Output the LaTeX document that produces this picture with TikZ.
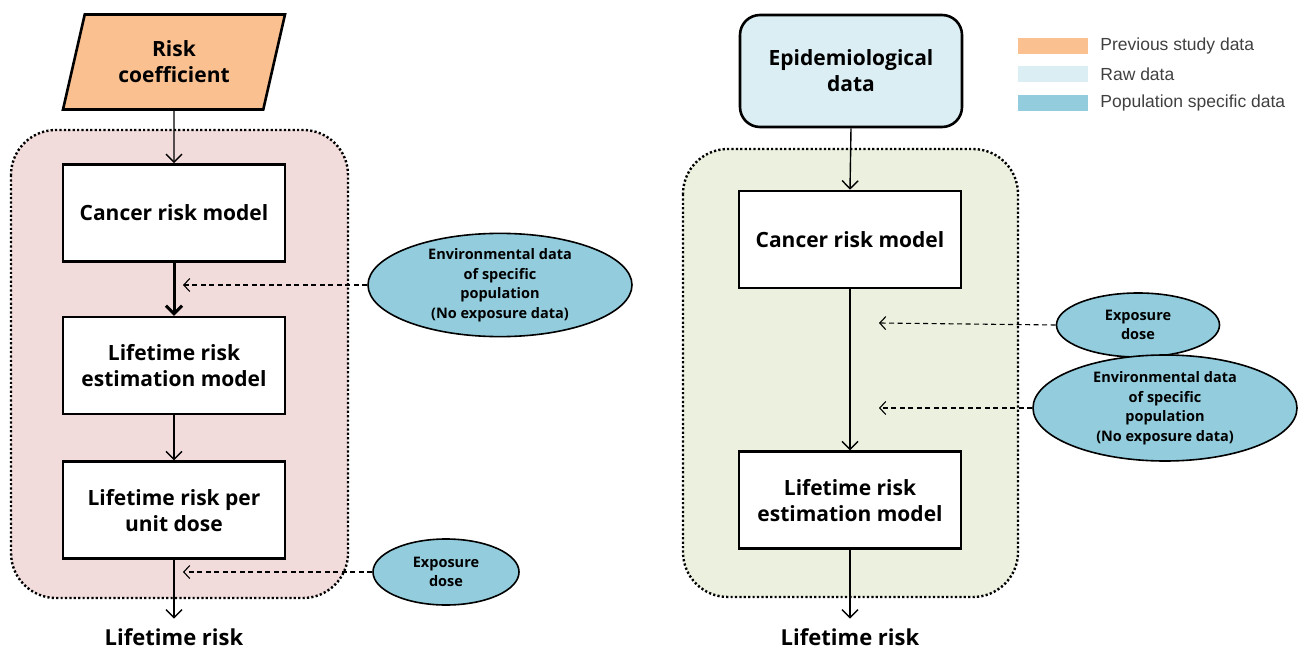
\documentclass[tikz,border=0pt]{standalone}
\usepackage{fontspec}
\setmainfont{Open Sans}
\newfontfamily\legfont{Liberation Sans}
\usetikzlibrary{positioning, shapes.geometric, arrows.meta}
\definecolor{prevorange}{HTML}{FAC090}
\definecolor{rawblue}{HTML}{DBEEF4}
\definecolor{popblue}{HTML}{93CDDD}
\definecolor{pinkbg}{HTML}{F2DCDB}
\definecolor{greenbg}{HTML}{EBF1DE}
\definecolor{legtext}{HTML}{404040}
\tikzset{mbox/.style={draw, line width=2.6pt, fill=white, minimum width=222pt, minimum height=97pt, align=center, font=\fontsize{21}{26}\selectfont\bfseries}}
\tikzset{popell/.style={ellipse, draw, line width=1.6pt, fill=popblue, inner sep=0pt, align=center, font=\fontsize{14.5}{19.5}\selectfont\bfseries}}
\tikzset{region/.style={line width=2.4pt, dash pattern=on 2.2pt off 2.2pt, rounded corners=45pt}}
\tikzset{arr/.style={draw, line width=1.4pt, -{Straight Barb[length=8pt, width=16pt]}}}
\tikzset{arrthick/.style={arr, line width=3pt}}
\tikzset{darr/.style={draw, line width=1.1pt, dash pattern=on 5pt off 3.5pt, -{Straight Barb[length=6pt, width=13pt]}}}
\tikzset{outtext/.style={font=\fontsize{22}{26}\selectfont\bfseries, anchor=base}}
\tikzset{swatch/.style={minimum width=70pt, minimum height=16pt, inner sep=0pt}}
\tikzset{legtxt/.style={anchor=west, inner sep=0pt, text=legtext, font=\legfont\fontsize{17.5}{20}\selectfont}}

\begin{document}
\begin{tikzpicture}[x=1pt, y=-1pt]
  \useasboundingbox (0,0) rectangle (1309,652);
  % dotted regions
  \draw[region, fill=pinkbg] (11,130) rectangle (348,598);
  \draw[region, fill=greenbg] (683,149) rectangle (1018,597);

  % left flow
  \node[trapezium, trapezium left angle=66, trapezium right angle=114,
        trapezium stretches body, draw, line width=2.6pt, fill=prevorange,
        minimum width=222pt, minimum height=95pt, align=center,
        font=\fontsize{21}{26}\selectfont\bfseries] (risk) at (174,62) {Risk\\coefficient};
  \node[mbox] (cancerL) at (174,213) {Cancer risk model};
  \node[mbox, below=53pt of cancerL] (lifeL) {Lifetime risk\\estimation model};
  \node[mbox, below=45pt of lifeL] (unitL) {Lifetime risk per\\unit dose};
  \node[outtext] (outL) at (174,645) {Lifetime risk};
  \node[popell, minimum width=264pt, minimum height=92pt] (envL) at (500,285)
    {Environmental data\\of specific\\population\\(No exposure data)};
  \node[popell, minimum width=146pt, minimum height=66pt] (doseL) at (446,572)
    {Exposure\\dose};
  \coordinate (tipL1) at (183,285);
  \coordinate (tipL2) at (183,572);

  \draw[arr] (risk.south) -- (cancerL.north);
  \draw[arrthick] (cancerL.south) -- (lifeL.north);
  \draw[arr] (lifeL.south) -- (unitL.north);
  \draw[arr] (unitL.south) -- ([yshift=6pt]outL.north);
  \draw[darr] (envL.west) -- (tipL1);
  \draw[darr] (doseL.west) -- (tipL2);

  % right flow
  \node[mbox, rounded corners=20pt, fill=rawblue, minimum height=112pt] (epi) at (851,71)
    {Epidemiological\\data};
  \node[mbox] (cancerR) at (850,239.5) {Cancer risk model};
  \node[mbox, below=161pt of cancerR] (lifeR) {Lifetime risk\\estimation model};
  \node[outtext] (outR) at (850,645) {Lifetime risk};
  \node[popell, minimum width=163pt, minimum height=64pt] (doseR) at (1138,325)
    {Exposure\\dose};
  \node[popell, minimum width=264pt, minimum height=106pt] (envR) at (1165,408)
    {Environmental data\\of specific\\population\\(No exposure data)};
  \coordinate (tipR1) at (879,323);
  \coordinate (tipR2) at (879,408);

  \draw[arr] (epi.south) -- (cancerR.north);
  \draw[arr] (cancerR.south) -- (lifeR.north);
  \draw[arr] (lifeR.south) -- ([yshift=6pt]outR.north);
  \draw[darr] (doseR.west) -- (tipR1);
  \draw[darr] (envR.west) -- (tipR2);

  % legend
  \node[swatch, fill=prevorange] (sw1) at (1053,46) {};
  \node[swatch, fill=rawblue, below=12pt of sw1] (sw2) {};
  \node[swatch, fill=popblue, below=12pt of sw2] (sw3) {};
  \node[legtxt, right=12pt of sw1] (lg1) {Previous study data};
  \node[legtxt, right=12pt of sw2] (lg2) {Raw data};
  \node[legtxt, right=12pt of sw3] (lg3) {Population specific data};
\end{tikzpicture}
\end{document}
